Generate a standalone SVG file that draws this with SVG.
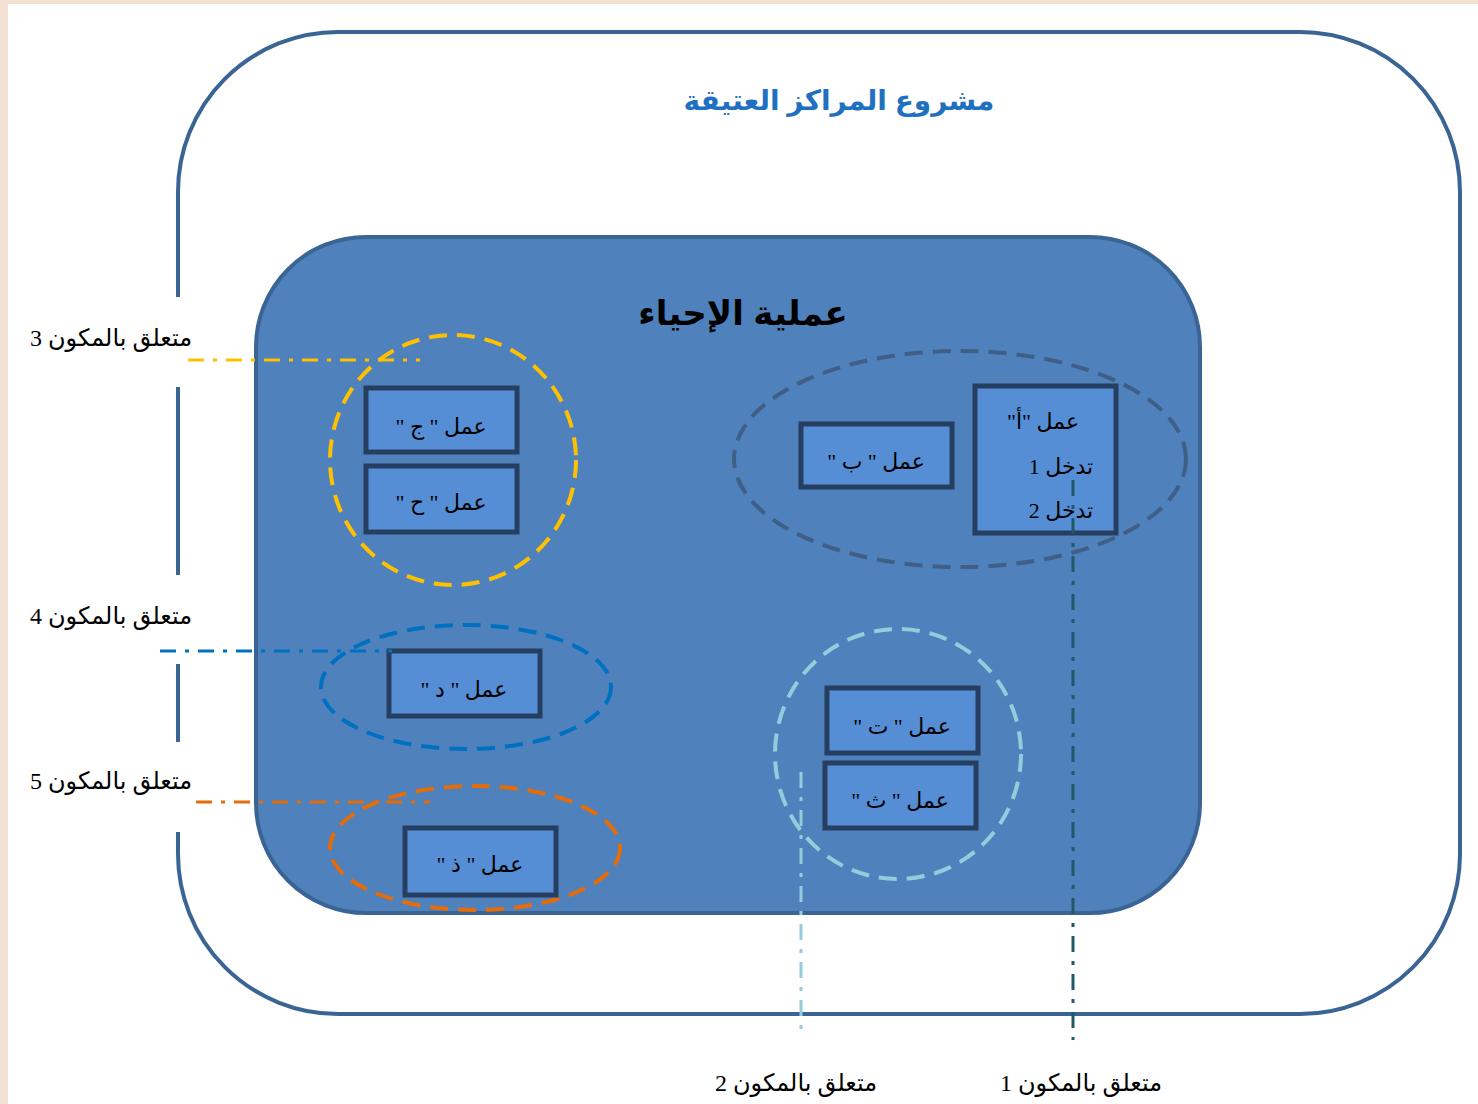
<svg xmlns="http://www.w3.org/2000/svg" width="1478" height="1104" viewBox="0 0 1478 1104">
<style>
.lbl{font-family:"Liberation Serif","DejaVu Sans",serif;font-size:24px;fill:#000;text-anchor:middle;direction:rtl}
.bt{font-family:"Liberation Serif","DejaVu Sans",serif;font-size:22px;fill:#000;text-anchor:middle;direction:rtl}
.box{fill:#558ed5;stroke:#263f61;stroke-width:5}
.grp{fill:none;stroke-width:4;stroke-dasharray:18 10}
.con{fill:none;stroke-width:3;stroke-dasharray:16 9 4 9}
</style>
<rect x="0" y="0" width="1478" height="1104" fill="#f3e2d4"/>
<rect x="8" y="4" width="1470" height="1100" fill="#ffffff"/>

<g id="outer">
<path d="M178,297 V192 A160,160 0 0 1 338,32 H1300 A160,160 0 0 1 1460,192 V854 A160,160 0 0 1 1300,1014 H338 A160,160 0 0 1 178,854 V832 M178,387 V575 M178,664 V742" fill="none" stroke="#3a6494" stroke-width="4"/>
<text x="839" y="110" font-family="'Liberation Sans','DejaVu Sans',sans-serif" font-size="28" font-weight="bold" fill="#1f70c1" text-anchor="middle" direction="rtl">مشروع المراكز العتيقة</text>
</g>

<g id="inner">
<rect x="256" y="237" width="944" height="676" rx="110" ry="110" fill="#4f81bd" stroke="#3a6494" stroke-width="4"/>
<text x="743" y="325" font-family="'Liberation Sans','DejaVu Sans',sans-serif" font-size="34" font-weight="bold" fill="#000" text-anchor="middle" direction="rtl">عملية الإحياء</text>
</g>

<g id="group-c3">
<ellipse cx="453" cy="460" rx="123" ry="125" class="grp" stroke="#ffc000"/>
</g>
<g id="node-jim">
<rect x="366" y="388" width="151" height="64" class="box"/>
<text x="441" y="434" class="bt">عمل " ج "</text>
</g>
<g id="node-ha">
<rect x="366" y="466" width="151" height="66" class="box"/>
<text x="441" y="510" class="bt">عمل " ح "</text>
</g>

<g id="group-c1">
<ellipse cx="960" cy="459" rx="226" ry="108" class="grp" stroke="#3f5f86"/>
</g>
<g id="node-ba">
<rect x="801" y="424" width="151" height="63" class="box"/>
<text x="876" y="469" class="bt">عمل " ب "</text>
</g>
<g id="node-alif">
<rect x="975" y="386" width="141" height="147" class="box"/>
<text x="1043" y="429" class="bt">عمل "أ"</text>
<text x="1061" y="474" class="bt">تدخل 1</text>
<text x="1061" y="518" class="bt">تدخل 2</text>
</g>

<g id="group-c2">
<ellipse cx="898" cy="754" rx="123" ry="125" class="grp" stroke="#92cddc"/>
</g>
<g id="node-ta">
<rect x="827" y="688" width="151" height="65" class="box"/>
<text x="902" y="734" class="bt">عمل " ت "</text>
</g>
<g id="node-tha">
<rect x="825" y="763" width="151" height="65" class="box"/>
<text x="900" y="808" class="bt">عمل " ث "</text>
</g>

<g id="group-c4">
<ellipse cx="466" cy="687" rx="145" ry="62" class="grp" stroke="#0070c0"/>
</g>
<g id="node-dal">
<rect x="389" y="651" width="151" height="65" class="box"/>
<text x="464" y="697" class="bt">عمل " د "</text>
</g>

<g id="group-c5">
<ellipse cx="475" cy="848" rx="145" ry="62" class="grp" stroke="#e46c0a"/>
</g>
<g id="node-dhal">
<rect x="405" y="828" width="151" height="67" class="box"/>
<text x="480" y="872" class="bt">عمل " ذ "</text>
</g>

<g id="connectors">
<line x1="188" y1="360" x2="420" y2="360" class="con" stroke="#ffc000"/>
<line x1="160" y1="651" x2="392" y2="651" class="con" stroke="#0070c0"/>
<line x1="196" y1="802" x2="430" y2="802" class="con" stroke="#e46c0a"/>
<line x1="801" y1="772" x2="801" y2="1035" class="con" stroke="#92cddc"/>
<line x1="1073" y1="480" x2="1073" y2="1040" class="con" stroke="#215968"/>
</g>

<g id="labels">
<text x="111" y="346" class="lbl">متعلق بالمكون 3</text>
<text x="111" y="624" class="lbl">متعلق بالمكون 4</text>
<text x="111" y="789" class="lbl">متعلق بالمكون 5</text>
<text x="796" y="1091" class="lbl">متعلق بالمكون 2</text>
<text x="1081" y="1091" class="lbl">متعلق بالمكون 1</text>
</g>
</svg>
